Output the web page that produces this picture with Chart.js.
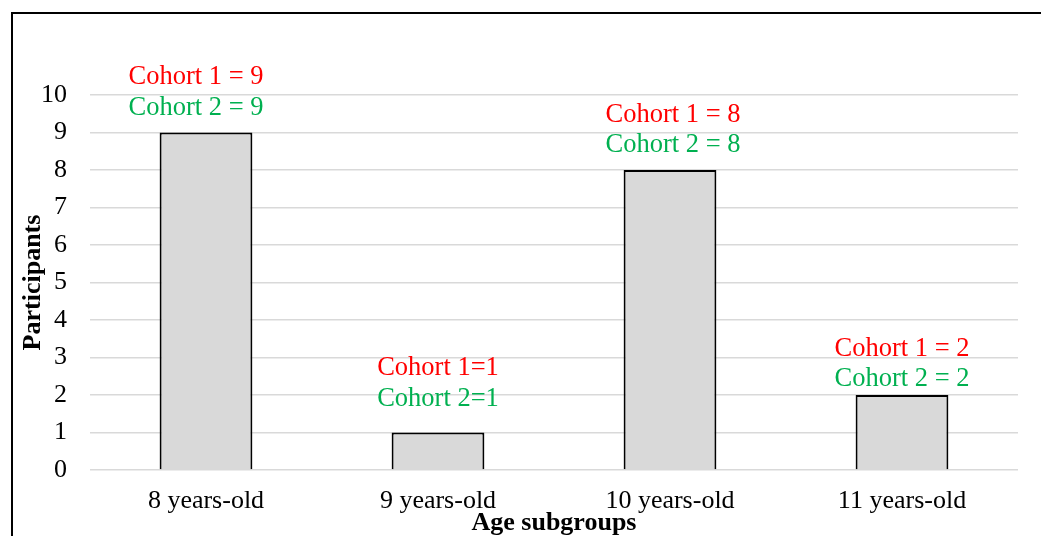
<!DOCTYPE html>
<html>
<head>
<meta charset="utf-8">
<script src="https://cdn.jsdelivr.net/npm/chart.js@4.4.1/dist/chart.umd.min.js"></script>
<style>
  html, body { margin: 0; padding: 0; background: #ffffff; }
  #wrap { position: relative; width: 1041px; height: 536px; }
</style>
</head>
<body>
<div id="wrap"><canvas id="chart" width="1041" height="536"></canvas></div>
<script>
// Age subgroups and participant counts
const categories = ['8 years-old', '9 years-old', '10 years-old', '11 years-old'];
const participants = [9, 1, 8, 2];
const cohort1 = [9, 1, 8, 2];
const cohort2 = [9, 1, 8, 2];
const separators = [' = ', '=', ' = ', ' = '];
const yTicks = [0, 1, 2, 3, 4, 5, 6, 7, 8, 9, 10];

const SERIF = '"Liberation Serif", "Times New Roman", serif';

// Placement of the cohort annotations relative to each bar (pixels)
const labelLift = [55, 64, 55, 46];
const labelShift = [-10, 0, 3, 0];

const frame = {
  id: 'frame',
  beforeDraw(chart) {
    const ctx = chart.ctx;
    ctx.save();
    ctx.fillStyle = '#ffffff';
    ctx.fillRect(0, 0, chart.width, chart.height);
    ctx.strokeStyle = '#000000';
    ctx.lineWidth = 2;
    ctx.beginPath();
    ctx.moveTo(12, chart.height);
    ctx.lineTo(12, 13);
    ctx.lineTo(chart.width, 13);
    ctx.stroke();
    ctx.restore();
  }
};

const cohortLabels = {
  id: 'cohortLabels',
  afterDatasetsDraw(chart) {
    const ctx = chart.ctx;
    const meta = chart.getDatasetMeta(0);
    ctx.save();
    ctx.font = '26.5px ' + SERIF;
    ctx.textAlign = 'center';
    ctx.textBaseline = 'middle';
    meta.data.forEach((bar, i) => {
      const top = bar.y;
      const x = bar.x + labelShift[i];
      const lift = labelLift[i];
      ctx.fillStyle = '#ff0000';
      ctx.fillText('Cohort 1' + separators[i] + cohort1[i], x, top - lift);
      ctx.fillStyle = '#00b050';
      ctx.fillText('Cohort 2' + separators[i] + cohort2[i], x, top - lift + 30.5);
    });
    ctx.restore();
  }
};

new Chart(document.getElementById('chart'), {
  type: 'bar',
  data: {
    labels: categories,
    datasets: [{
      data: participants,
      backgroundColor: '#d9d9d9',
      borderColor: '#000000',
      borderWidth: 2,
      borderSkipped: 'bottom',
      categoryPercentage: 1.0,
      barPercentage: 0.4
    }]
  },
  options: {
    responsive: false,
    animation: false,
    devicePixelRatio: 1,
    layout: { padding: { left: 0, top: 95, right: 23, bottom: 0 } },
    plugins: {
      legend: { display: false },
      tooltip: { enabled: false }
    },
    scales: {
      x: {
        grid: { display: false, drawTicks: false },
        border: { display: false },
        ticks: {
          color: '#000000',
          padding: 16,
          font: { family: SERIF, size: 26 }
        },
        title: {
          display: true,
          text: 'Age subgroups',
          color: '#000000',
          padding: { top: 0, bottom: 0 },
          font: { family: SERIF, size: 26, weight: 'bold', lineHeight: 1 }
        },
        afterFit(scale) { scale.height = 66; }
      },
      y: {
        min: 0,
        max: 10,
        afterBuildTicks(scale) { scale.ticks = yTicks.map(v => ({ value: v })); },
        grid: { color: '#d9d9d9', lineWidth: 1.5, drawTicks: false },
        border: { display: false },
        ticks: {
          color: '#000000',
          padding: 23,
          font: { family: SERIF, size: 26 }
        },
        title: {
          display: true,
          text: 'Participants',
          color: '#000000',
          padding: { top: 20, bottom: 0 },
          font: { family: SERIF, size: 26, weight: 'bold', lineHeight: 1 }
        },
        afterFit(scale) { scale.width = 90; }
      }
    }
  },
  plugins: [frame, cohortLabels]
});
</script>
</body>
</html>
